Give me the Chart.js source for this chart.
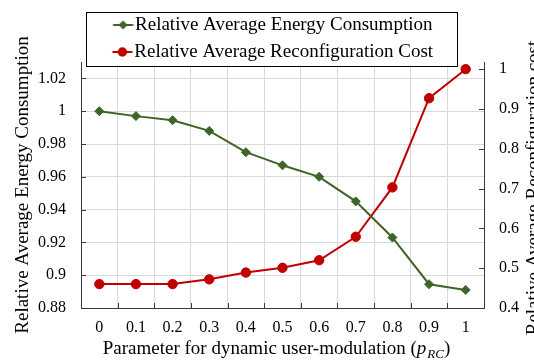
<!DOCTYPE html>
<html>
<head>
<meta charset="utf-8">
<script src="https://cdn.jsdelivr.net/npm/chart.js@4/dist/chart.umd.min.js"></script>
<style>
  html, body { margin: 0; padding: 0; background: #fff; }
  #wrap { width: 534px; height: 360px; position: relative; }
</style>
</head>
<body>
<div id="wrap"><canvas id="chart"></canvas></div>
<script>
// values
const pValues = ['0', '0.1', '0.2', '0.3', '0.4', '0.5', '0.6', '0.7', '0.8', '0.9', '1'];
const energy = [1.000, 0.997, 0.9945, 0.988, 0.975, 0.967, 0.960, 0.945, 0.923, 0.8945, 0.891];
const reconfCost = [0.460, 0.460, 0.460, 0.472, 0.489, 0.501, 0.520, 0.579, 0.703, 0.927, 1.000];
const energyTicks = [0.88, 0.9, 0.92, 0.94, 0.96, 0.98, 1, 1.02];
const costTicks = [0.4, 0.5, 0.6, 0.7, 0.8, 0.9, 1];

const GREEN = '#3F6428';
const RED = '#C00000';
const AXIS = '#3a3a3a';
const GRID = '#D9D9D9';
const FONT = "'Liberation Serif', 'Times New Roman', serif";

/** Small line + marker image used as a legend symbol. */
function legendIcon(color, shape, radius) {
  const c = document.createElement('canvas');
  c.width = 40;
  c.height = 12;
  const g = c.getContext('2d');
  g.strokeStyle = color;
  g.fillStyle = color;
  g.lineWidth = 2;
  g.beginPath();
  g.moveTo(19.5, 6);
  g.lineTo(39.5, 6);
  g.stroke();
  g.beginPath();
  if (shape === 'circle') {
    g.arc(29.5, 6, radius, 0, Math.PI * 2);
  } else {
    g.moveTo(29.5 - radius, 6);
    g.lineTo(29.5, 6 - radius);
    g.lineTo(29.5 + radius, 6);
    g.lineTo(29.5, 6 + radius);
    g.closePath();
  }
  g.fill();
  return c;
}

const icons = [legendIcon(GREEN, 'diamond', 4.5), legendIcon(RED, 'circle', 4.7)];

const decorPlugin = {
  id: 'decor',
  afterDraw(chart) {
    const {ctx, chartArea: a, scales} = chart;
    ctx.save();

    // tick marks pointing into the plot
    ctx.strokeStyle = AXIS;
    ctx.lineWidth = 1;
    ctx.beginPath();
    scales.y.ticks.forEach((t, i) => {
      const y = Math.round(scales.y.getPixelForTick(i)) + 0.5;
      ctx.moveTo(a.left, y);
      ctx.lineTo(a.left + 5, y);
    });
    scales.y1.ticks.forEach((t, i) => {
      const y = Math.round(scales.y1.getPixelForTick(i)) + 0.5;
      ctx.moveTo(a.right - 5, y);
      ctx.lineTo(a.right, y);
    });
    for (let i = 0; i <= pValues.length; i++) {
      const x = Math.round(scales.x.getPixelForValue(i - 0.5)) + 0.5;
      ctx.moveTo(x, a.bottom);
      ctx.lineTo(x, a.bottom - 5);
    }
    ctx.stroke();

    // legend frame
    const hb = chart.legend.legendHitBoxes;
    if (hb && hb.length) {
      const left = Math.min(...hb.map(h => h.left)) - 14.5;
      const right = Math.max(...hb.map(h => h.left + h.width)) + 24;
      const top = hb[0].top - 4;
      const bottom = hb[hb.length - 1].top + hb[hb.length - 1].height + 4;
      ctx.fillStyle = '#fff';
      ctx.fillRect(left, a.top, right - left, bottom - a.top);
      ctx.strokeStyle = '#000';
      ctx.lineWidth = 1;
      ctx.strokeRect(Math.round(left) + 0.5, Math.round(top) + 0.5, Math.round(right - left), Math.round(bottom - top));
    }

    // x axis title with subscript
    ctx.fillStyle = '#000';
    ctx.textBaseline = 'alphabetic';
    const main = 'Parameter for dynamic user-modulation (';
    const fMain = '19px ' + FONT;
    const fIt = 'italic 19px ' + FONT;
    const fSub = 'italic 13px ' + FONT;
    ctx.font = fMain;
    const wMain = ctx.measureText(main).width;
    const wClose = ctx.measureText(')').width;
    ctx.font = fIt;
    const wP = ctx.measureText('p').width;
    ctx.font = fSub;
    const wSub = ctx.measureText('RC').width;
    const total = wMain + wP + 1 + wSub + wClose;
    let x = (a.left + a.right) / 2 - 6 - total / 2;
    const base = a.bottom + 46;
    ctx.font = fMain;
    ctx.fillText(main, x, base);
    x += wMain;
    ctx.font = fIt;
    ctx.fillText('p', x, base);
    x += wP + 1;
    ctx.font = fSub;
    ctx.fillText('RC', x, base + 4);
    x += wSub;
    ctx.font = fMain;
    ctx.fillText(')', x, base);

    // right axis title, reading upward like the left one
    ctx.translate(a.right + 50, (a.top + a.bottom) / 2 + 3);
    ctx.rotate(-Math.PI / 2);
    ctx.textAlign = 'center';
    ctx.textBaseline = 'middle';
    ctx.font = fMain;
    ctx.fillText('Relative Average Reconfiguration cost', 0, 0);
    ctx.restore();
  },
};

new Chart(document.getElementById('chart'), {
  type: 'line',
  data: {
    labels: pValues,
    datasets: [{
      label: 'Relative Average Energy Consumption',
      data: energy,
      yAxisID: 'y',
      borderColor: GREEN,
      backgroundColor: GREEN,
      borderWidth: 2,
      pointStyle: 'rectRot',
      pointRadius: 4.5,
      pointBorderWidth: 1,
      tension: 0,
    }, {
      label: 'Relative Average Reconfiguration Cost',
      data: reconfCost,
      yAxisID: 'y1',
      borderColor: RED,
      backgroundColor: RED,
      borderWidth: 2,
      pointStyle: 'circle',
      pointRadius: 4.7,
      pointBorderWidth: 1,
      tension: 0,
    }],
  },
  options: {
    responsive: true,
    maintainAspectRatio: false,
    animation: false,
    layout: { padding: { top: 7.5, left: 0, right: 0, bottom: 0 } },
    scales: {
      x: {
        type: 'category',
        offset: true,
        grid: { color: GRID, offset: true, drawTicks: false },
        border: { color: AXIS, width: 1 },
        ticks: { color: '#000', font: { family: FONT, size: 16 }, padding: 10, autoSkip: false, maxRotation: 0 },
        afterFit: s => { s.height = 52; },
      },
      y: {
        position: 'left',
        min: 0.88,
        max: 1.03,
        afterBuildTicks: s => { s.ticks = energyTicks.map(v => ({ value: v })); },
        grid: { color: GRID, drawTicks: false },
        border: { color: AXIS, width: 1 },
        ticks: { color: '#000', font: { family: FONT, size: 16 }, padding: 15, callback: v => String(v) },
        title: {
          display: true,
          text: 'Relative Average Energy Consumption',
          color: '#000',
          font: { family: FONT, size: 19 },
          padding: { top: 12, bottom: 0 },
        },
        afterFit: s => { s.width = 81; },
      },
      y1: {
        position: 'right',
        min: 0.4,
        max: 1.018,
        afterBuildTicks: s => { s.ticks = costTicks.map(v => ({ value: v })); },
        grid: { drawOnChartArea: false, drawTicks: false },
        border: { color: AXIS, width: 1 },
        ticks: { color: '#000', font: { family: FONT, size: 16 }, padding: 15, callback: v => String(v) },
        afterFit: s => { s.width = 50; },
      },
    },
    plugins: {
      legend: {
        position: 'top',
        maxHeight: 54.5,
        labels: {
          usePointStyle: true,
          pointStyleWidth: 24,
          padding: 8,
          color: '#000',
          font: { family: FONT, size: 19 },
          generateLabels: chart => {
            const items = Chart.defaults.plugins.legend.labels.generateLabels(chart);
            items.forEach((it, i) => { it.pointStyle = icons[i]; });
            return items;
          },
        },
      },
      tooltip: { enabled: false },
    },
  },
  plugins: [decorPlugin],
});
</script>
</body>
</html>
